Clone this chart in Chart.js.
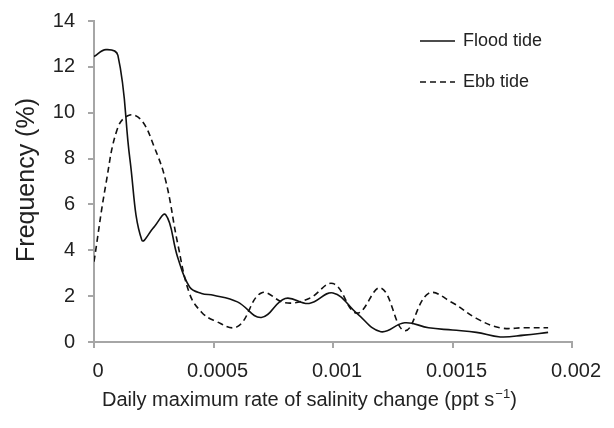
<!DOCTYPE html>
<html>
<head>
<meta charset="utf-8">
<script src="https://cdn.jsdelivr.net/npm/chart.js@4"></script>
<style>
  html, body { margin: 0; padding: 0; background: #fff; }
  #chart { display: block; }
</style>
</head>
<body>
<canvas id="chart" width="614" height="428"></canvas>
<script>
// salinity change rate (ppt/s) at which each frequency was read
const rates = [0, 0.00005, 0.0001, 0.00015, 0.0002, 0.00025, 0.0003, 0.00035, 0.0004, 0.00045,
  0.0005, 0.0006, 0.0007, 0.0008, 0.0009, 0.001, 0.0011, 0.0012, 0.0013, 0.0014,
  0.0015, 0.0016, 0.0017, 0.0018, 0.0019];
// frequency (%) for each tide
const flood = [12.45, 12.75, 12.5, 8.0, 4.45, 5.0, 5.55, 3.7, 2.4, 2.12,
  2.04, 1.75, 1.07, 1.9, 1.68, 2.14, 1.25, 0.45, 0.84, 0.62,
  0.52, 0.42, 0.22, 0.3, 0.42];
const ebb = [3.5, 6.9, 9.36, 9.9, 9.65, 8.56, 7.04, 4.3, 2.1, 1.3,
  0.95, 0.67, 2.14, 1.71, 1.9, 2.55, 1.26, 2.36, 0.49, 2.12,
  1.71, 1.03, 0.62, 0.62, 0.62];
const seriesNames = ['Flood tide', 'Ebb tide'];
const xTicks = [0, 0.0005, 0.001, 0.0015, 0.002];
const yTicks = [0, 2, 4, 6, 8, 10, 12, 14];

const FONT = 'Liberation Sans, Arial, Helvetica, sans-serif';
const AXIS = '#a6a6a6';
const INK = '#222';

function points(ys) {
  return rates.map((x, i) => ({ x: x, y: ys[i] }));
}

// legend + axis titles drawn by hand so they sit where the original has them
const extras = {
  id: 'extras',
  afterDraw(chart) {
    const ctx = chart.ctx;
    ctx.save();
    ctx.fillStyle = INK;
    ctx.textBaseline = 'alphabetic';

    // legend
    ctx.font = '18px ' + FONT;
    chart.data.datasets.forEach((ds, i) => {
      const y = 41 + i * 41;
      ctx.strokeStyle = ds.borderColor;
      ctx.lineWidth = ds.borderWidth;
      ctx.setLineDash(ds.borderDash || []);
      ctx.beginPath();
      ctx.moveTo(420, y);
      ctx.lineTo(455, y);
      ctx.stroke();
      ctx.setLineDash([]);
      ctx.textAlign = 'left';
      ctx.fillText(ds.label, 463, y + 5);
    });

    // x title with superscript
    ctx.font = '20px ' + FONT;
    ctx.textAlign = 'left';
    let x = 102;
    const base = 406;
    const main = 'Daily maximum rate of salinity change (ppt s';
    ctx.fillText(main, x, base);
    x += ctx.measureText(main).width;
    ctx.font = '13px ' + FONT;
    ctx.fillText('\u22121', x + 1, base - 8);
    x += ctx.measureText('\u22121').width + 1;
    ctx.font = '20px ' + FONT;
    ctx.fillText(')', x, base);

    // y title
    ctx.translate(27, 180);
    ctx.rotate(-Math.PI / 2);
    ctx.font = '25px ' + FONT;
    ctx.textAlign = 'center';
    ctx.textBaseline = 'middle';
    ctx.fillText('Frequency (%)', 0, 0);
    ctx.restore();
  }
};

new Chart(document.getElementById('chart'), {
  type: 'scatter',
  data: {
    datasets: [
      {
        label: seriesNames[0],
        data: points(flood),
        showLine: true,
        borderColor: '#111',
        borderWidth: 1.6,
        pointRadius: 0,
        tension: 0.4
      },
      {
        label: seriesNames[1],
        data: points(ebb),
        showLine: true,
        borderColor: '#111',
        borderWidth: 1.6,
        borderDash: [6, 4],
        pointRadius: 0,
        tension: 0.4
      }
    ]
  },
  options: {
    responsive: false,
    animation: false,
    layout: { padding: { left: 0, right: 42, top: 20, bottom: 0 } },
    plugins: { legend: { display: false }, tooltip: { enabled: false } },
    scales: {
      x: {
        type: 'linear',
        min: 0,
        max: 0.002,
        afterBuildTicks: s => { s.ticks = xTicks.map(v => ({ value: v })); },
        afterFit: s => { s.height = 86; },
        border: { color: AXIS, width: 2 },
        grid: { drawOnChartArea: false, drawTicks: true, tickLength: 6, color: AXIS, lineWidth: 2 },
        ticks: {
          color: INK,
          font: { family: FONT, size: 20 },
          padding: 11,
          labelOffset: 4,
          maxRotation: 0,
          callback: v => String(+v.toFixed(4))
        }
      },
      y: {
        min: 0,
        max: 14,
        afterBuildTicks: s => { s.ticks = yTicks.map(v => ({ value: v })); },
        afterFit: s => { s.width = 94; },
        border: { color: AXIS, width: 2 },
        grid: { drawOnChartArea: false, drawTicks: true, tickLength: 6, color: AXIS, lineWidth: 2 },
        ticks: {
          color: INK,
          font: { family: FONT, size: 20, lineHeight: 0.8 },
          padding: 13
        }
      }
    }
  },
  plugins: [extras]
});
</script>
</body>
</html>
